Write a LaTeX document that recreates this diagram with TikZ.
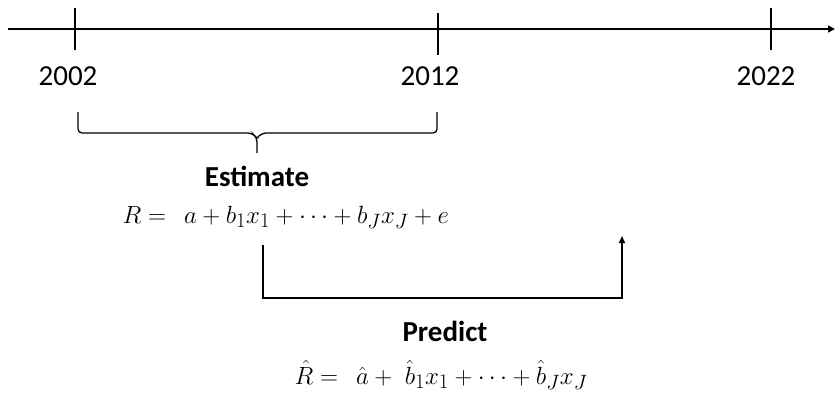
\documentclass[tikz,border=0pt]{standalone}
\usepackage{fontspec}
\setmainfont{Carlito}
\usetikzlibrary{arrows.meta}
\begin{document}
\begin{tikzpicture}[x=1pt,y=-1pt,
  axis/.style={line width=1.6pt,-{Triangle[length=7pt,width=7pt]}},
  tick/.style={line width=1.4pt},
  year/.style={font=\fontsize{29}{34}\selectfont},
  lbl/.style={font=\fontsize{29}{34}\selectfont\bfseries},
  eqn/.style={font=\fontsize{28}{34}\selectfont, inner sep=0pt},
  conn/.style={line width=1.6pt}]
\useasboundingbox (0,0) rectangle (835,396);
\coordinate (a0) at (8,29);
\coordinate (a1) at (835,29);
\draw[axis] (a0) -- (a1);
\coordinate (t1a) at (75,8); \coordinate (t1b) at (75,50);
\coordinate (t2a) at (438,13); \coordinate (t2b) at (438,55);
\coordinate (t3a) at (771,8); \coordinate (t3b) at (771,50);
\draw[tick] (t1a) -- (t1b);
\draw[tick] (t2a) -- (t2b);
\draw[tick] (t3a) -- (t3b);
\node[year] (y1) at (68,76) {2002};
\node[year] (y2) at (430,76) {2012};
\node[year] (y3) at (766,76) {2022};
% brace
\coordinate (bl) at (78,112);
\coordinate (br) at (437,112);
\coordinate (bt) at (257,153);
\draw[line width=1.3pt, rounded corners=4pt] (bl) -- (78,133) -- (252,133) -- (257,138) -- (bt);
\draw[line width=1.3pt, rounded corners=4pt] (br) -- (437,133) -- (262,133) -- (257,138);
\node[lbl] (est) at (257,176) {Estimate};
\node[eqn, anchor=base east] (eq1) at (449,223) {$R=\;\,a+b_1x_1+\cdots+b_Jx_J+e$};
% predict connector
\coordinate (p0) at (263,245);
\coordinate (p1) at (263,298);
\coordinate (p2) at (622,298);
\coordinate (p3) at (622,236);
\draw[conn,-{Triangle[length=7pt,width=6pt]}] (p0) -- (p1) -- (p2) -- (p3);
\node[lbl] (pred) at (445,331) {Predict};
\node[eqn, anchor=base] (eq2) at (441,384) {$\hat R=\;\,\hat a+\;\hat b_1x_1+\cdots+\hat b_Jx_J$};
\end{tikzpicture}
\end{document}
